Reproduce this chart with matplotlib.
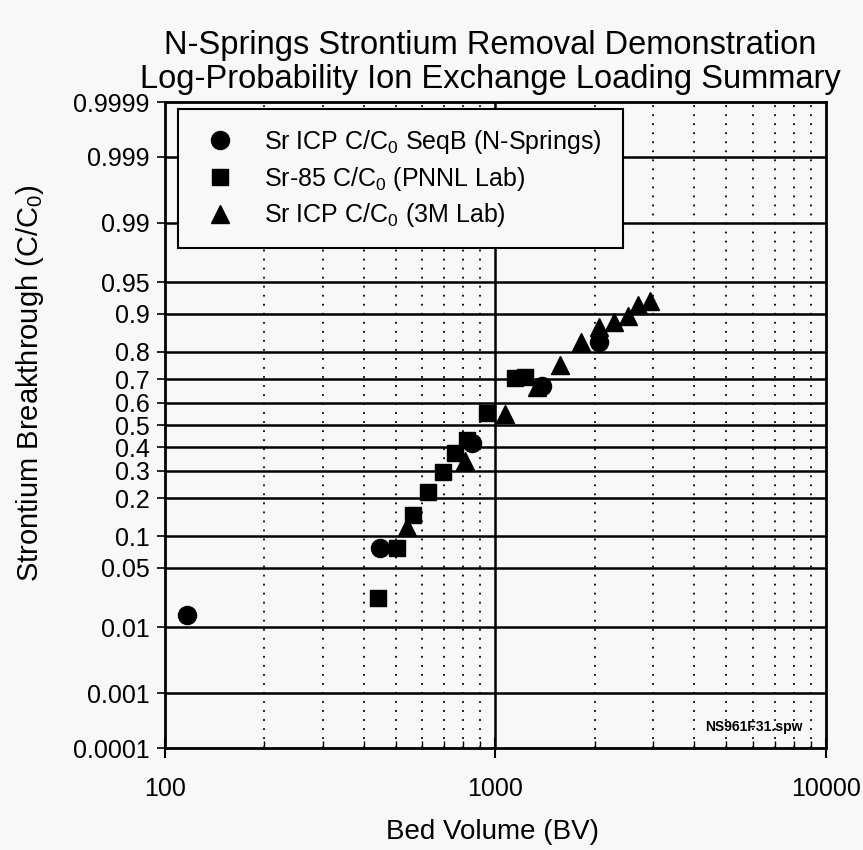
import numpy as np
import matplotlib
matplotlib.use('Agg')
import matplotlib.pyplot as plt
from matplotlib.ticker import FixedLocator, FixedFormatter, NullFormatter
from statistics import NormalDist

plt.rcParams['font.family'] = ['Liberation Sans', 'DejaVu Sans']
plt.rcParams['mathtext.fontset'] = 'custom'
plt.rcParams['mathtext.rm'] = 'Liberation Sans'
plt.rcParams['mathtext.it'] = 'Liberation Sans'

# N-Springs column (Sr ICP, SeqB)
bv_nspr = [117, 447, 847, 1380, 2060]
cc_nspr = [0.0143, 0.078, 0.416, 0.673, 0.831]

# PNNL lab (Sr-85)
bv_pnnl = [441, 503, 564, 626, 692, 754, 818, 945, 1146, 1229]
cc_pnnl = [0.0231, 0.078, 0.150, 0.219, 0.293, 0.375, 0.431, 0.554, 0.705, 0.709]

# 3M lab (Sr ICP)
bv_3m = [541, 809, 1069, 1333, 1567, 1814, 2057, 2283, 2512, 2704, 2934]
cc_3m = [0.121, 0.339, 0.550, 0.670, 0.755, 0.831, 0.871, 0.883, 0.896, 0.917, 0.924]

yticks = [0.0001, 0.001, 0.01, 0.05, 0.1, 0.2, 0.3, 0.4, 0.5, 0.6, 0.7, 0.8,
          0.9, 0.95, 0.99, 0.999, 0.9999]
ytick_labels = ['0.0001', '0.001', '0.01', '0.05', '0.1', '0.2', '0.3', '0.4', '0.5',
                '0.6', '0.7', '0.8', '0.9', '0.95', '0.99', '0.999', '0.9999']

nd = NormalDist()
_ppf = np.vectorize(lambda p: nd.inv_cdf(min(max(p, 1e-12), 1 - 1e-12)), otypes=[float])
_cdf = np.vectorize(nd.cdf, otypes=[float])


def prob_fwd(p):
    return _ppf(np.asarray(p, dtype=float))


def prob_inv(z):
    return _cdf(np.asarray(z, dtype=float))


fig = plt.figure(figsize=(8.63, 8.5), dpi=100)
fig.patch.set_facecolor('#f8f8f8')
ax = fig.add_axes([0.191, 0.12, 0.766, 0.76])
ax.set_facecolor('#f8f8f8')

ax.set_xscale('log')
ax.set_yscale('function', functions=(prob_fwd, prob_inv))
ax.set_xlim(100, 10000)
ax.set_ylim(0.0001, 0.9999)

# grid: solid horizontals, solid vertical at 1000, dotted at minor decades
for yv in yticks[1:-1]:
    ax.axhline(yv, color='black', lw=1.8, zorder=1)
for xv in list(range(200, 1000, 100)) + list(range(2000, 10000, 1000)):
    ax.axvline(xv, color='black', lw=1.3, ls=(0, (1, 4)), zorder=1)
ax.axvline(1000, color='black', lw=1.8, zorder=1)

ax.plot(bv_nspr, cc_nspr, 'o', color='black', ms=13, ls='none', zorder=3,
        label=r'Sr ICP C/C$_0$ SeqB (N-Springs)')
ax.plot(bv_pnnl, cc_pnnl, 's', color='black', ms=11.5, ls='none', zorder=3,
        label=r'Sr-85 C/C$_0$ (PNNL Lab)')
ax.plot(bv_3m, cc_3m, '^', color='black', ms=13, ls='none', zorder=3,
        label=r'Sr ICP C/C$_0$ (3M Lab)')

ax.yaxis.set_major_locator(FixedLocator(yticks))
ax.yaxis.set_major_formatter(FixedFormatter(ytick_labels))
ax.yaxis.set_minor_locator(FixedLocator([]))
ax.set_xticks([100, 1000, 10000])
ax.set_xticklabels(['100', '1000', '10000'])
ax.xaxis.set_minor_formatter(NullFormatter())

ax.tick_params(axis='y', which='major', direction='out', length=6, width=1.2,
               labelsize=18, pad=5)
ax.tick_params(axis='x', which='major', direction='inout', length=14, width=1.5,
               labelsize=18, pad=14)
ax.tick_params(axis='x', which='minor', direction='in', length=5, width=1)
for s in ax.spines.values():
    s.set_linewidth(2)

ax.set_xlabel('Bed Volume (BV)', fontsize=20)
ax.set_ylabel(r'Strontium Breakthrough (C/C$_0$)', fontsize=21)
ax.xaxis.set_label_coords(0.495, -0.130)
ax.yaxis.set_label_coords(-0.204, 0.565)
ax.xaxis.label.set_va('center')
ax.yaxis.label.set_va('center')

fig.text(0.568, 0.946, 'N-Springs Strontium Removal Demonstration',
         ha='center', va='center', fontsize=23.5)
fig.text(0.568, 0.906, 'Log-Probability Ion Exchange Loading Summary',
         ha='center', va='center', fontsize=23.5)

ax.text(0.891, 0.0325, 'NS961F31.spw', transform=ax.transAxes, ha='center',
        va='center', fontsize=10, fontweight='bold')

leg = ax.legend(loc='upper left', bbox_to_anchor=(0.0197, 0.7755, 0.673, 0.2135),
                mode='expand', borderaxespad=0, fontsize=18, frameon=True,
                fancybox=False, edgecolor='black', framealpha=1,
                labelspacing=0.35, handletextpad=0.78, borderpad=0.75,
                handlelength=1.9)
leg.get_frame().set_linewidth(1.5)
leg.get_frame().set_facecolor('#f8f8f8')
leg.set_zorder(5)

fig.savefig('out.png', dpi=100, facecolor=fig.get_facecolor())
